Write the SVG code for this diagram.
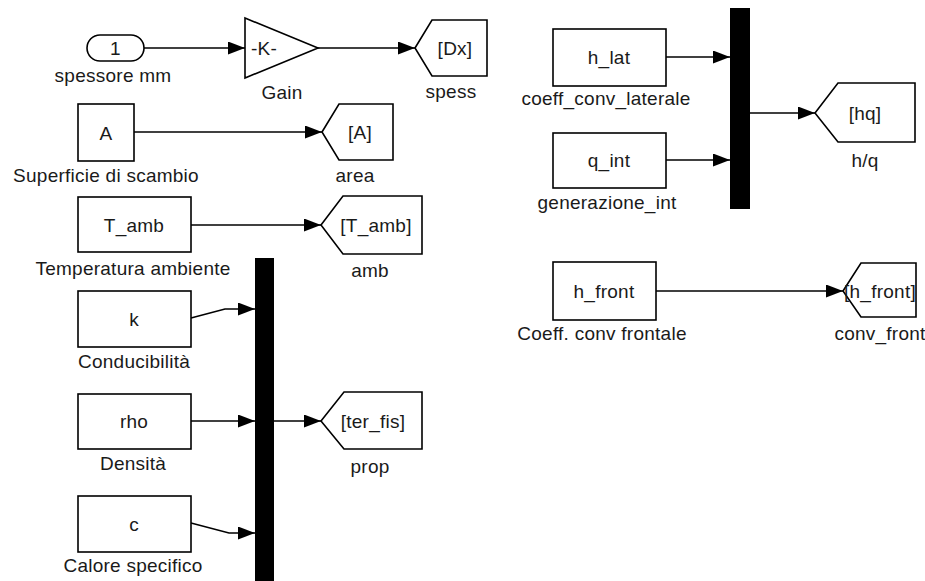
<svg xmlns="http://www.w3.org/2000/svg" width="925" height="581" viewBox="0 0 925 581">
<style>
.blk{fill:#fff;stroke:#000;stroke-width:1.6}
.t{font-family:"Liberation Sans",Arial,sans-serif;font-size:19px;letter-spacing:0.25px;fill:#1a1a1a;text-anchor:middle}
.ln{fill:none;stroke:#000;stroke-width:1.5;marker-end:url(#ah)}
.mux{fill:#000}
</style>
<defs>
<marker id="ah" markerWidth="17" markerHeight="13" refX="17" refY="6.5" orient="auto" markerUnits="userSpaceOnUse">
<path d="M0,0 L17,6.5 L0,13 z" fill="#000"/>
</marker>
</defs>
<rect width="925" height="581" fill="#fff"/>
<g id="connectors">
<path class="ln" d="M144,48 H245"/>
<path class="ln" d="M318,48 H415"/>
<path class="ln" d="M134,132 H322"/>
<path class="ln" d="M191,225 H321"/>
<path class="ln" d="M191,318 L225,309 H255"/>
<path class="ln" d="M191,421 H255"/>
<path class="ln" d="M191,523 L229,533 H255"/>
<path class="ln" d="M274,421 H321"/>
<path class="ln" d="M666,57 H730"/>
<path class="ln" d="M666,160 H730"/>
<path class="ln" d="M750,113 H815"/>
<path class="ln" d="M656,291 H843"/>
</g>
<g id="const1"><rect class="blk" x="87" y="35" width="57" height="26" rx="13"/><text class="t" x="115.5" y="55">1</text><text class="t" x="113" y="82">spessore mm</text></g>
<g id="gain"><polygon class="blk" points="245,18 318,48 245,78"/><text class="t" x="264" y="55">-K-</text><text class="t" x="282" y="99">Gain</text></g>
<g id="goto_Dx"><polygon class="blk" points="415,48 432,20 487,20 487,76 432,76"/><text class="t" x="455" y="55">[Dx]</text><text class="t" x="451" y="98">spess</text></g>
<g id="A"><rect class="blk" x="78" y="104" width="56" height="57"/><text class="t" x="106" y="140">A</text><text class="t" x="106" y="182">Superficie di scambio</text></g>
<g id="goto_A"><polygon class="blk" points="322,132 339,104 393,104 393,160 339,160"/><text class="t" x="360" y="139">[A]</text><text class="t" x="355" y="182">area</text></g>
<g id="T_amb"><rect class="blk" x="78" y="197" width="113" height="55"/><text class="t" x="134" y="232">T_amb</text><text class="t" x="133" y="275">Temperatura ambiente</text></g>
<g id="goto_T_amb"><polygon class="blk" points="321,225 343,196 422,196 422,254 343,254"/><text class="t" x="376" y="232">[T_amb]</text><text class="t" x="370" y="277">amb</text></g>
<g id="k"><rect class="blk" x="78" y="291" width="113" height="56"/><text class="t" x="134" y="326">k</text><text class="t" x="134" y="368">Conducibilità</text></g>
<g id="rho"><rect class="blk" x="78" y="394" width="113" height="55"/><text class="t" x="134" y="428">rho</text><text class="t" x="133" y="470">Densità</text></g>
<g id="c"><rect class="blk" x="78" y="496" width="113" height="56"/><text class="t" x="134" y="531">c</text><text class="t" x="133" y="572">Calore specifico</text></g>
<g id="mux1"><rect class="mux" x="255" y="258" width="19" height="323"/></g>
<g id="goto_ter_fis"><polygon class="blk" points="321,421 344,392 422,392 422,449 344,449"/><text class="t" x="373" y="428">[ter_fis]</text><text class="t" x="370" y="473">prop</text></g>
<g id="h_lat"><rect class="blk" x="553" y="29" width="113" height="57"/><text class="t" x="609" y="64">h_lat</text><text class="t" x="606" y="105">coeff_conv_laterale</text></g>
<g id="q_int"><rect class="blk" x="553" y="133" width="113" height="55"/><text class="t" x="609" y="167">q_int</text><text class="t" x="607" y="209">generazione_int</text></g>
<g id="mux2"><rect class="mux" x="730" y="8" width="20" height="201"/></g>
<g id="goto_hq"><polygon class="blk" points="815,113 838,83 915,83 915,142 838,142"/><text class="t" x="865" y="120">[hq]</text><text class="t" x="865" y="167">h/q</text></g>
<g id="h_front"><rect class="blk" x="553" y="262" width="103" height="58"/><text class="t" x="604" y="298">h_front</text><text class="t" x="602" y="340">Coeff. conv frontale</text></g>
<g id="goto_h_front"><polygon class="blk" points="843,291 861,263 916,263 916,317 861,317"/><text class="t" x="880" y="298">[h_front]</text><text class="t" x="880" y="340">conv_front</text></g>
</svg>
